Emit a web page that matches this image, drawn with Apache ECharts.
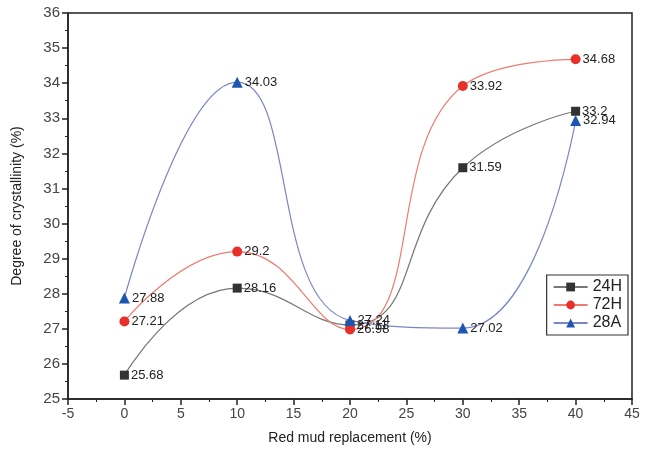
<!DOCTYPE html>
<html>
<head>
<meta charset="utf-8">
<script src="https://cdn.jsdelivr.net/npm/echarts@6/dist/echarts.min.js"></script>
<style>
  html, body { margin: 0; padding: 0; background: #fff; }
  #main { width: 652px; height: 451px; }
</style>
</head>
<body>
<div id="main"></div>
<script>
var xValues = [0, 10, 20, 30, 40];
var h24 = [25.68, 28.16, 27.11, 31.59, 33.2];
var h72 = [27.21, 29.2, 26.98, 33.92, 34.68];
var a28 = [27.88, 34.03, 27.24, 27.02, 32.94];

var font = 'Liberation Sans';

function pairs(ys) {
  return xValues.map(function (x, i) { return [x, ys[i]]; });
}

function makeSeries(name, ys, symbol, markColor, lineColor, size) {
  return {
    name: name,
    type: 'line',
    smooth: 0.5,
    data: pairs(ys),
    symbol: symbol,
    symbolSize: size,
    itemStyle: { color: markColor },
    lineStyle: { color: lineColor, width: 1.2 },
    label: {
      show: true,
      position: 'right',
      distance: 2,
      color: '#222',
      fontFamily: font,
      fontSize: 13
    }
  };
}

var myChart = echarts.init(document.getElementById('main'));

myChart.setOption({
  animation: false,
  grid: {
    left: 68, right: 20, top: 13, bottom: 52,
    show: true, borderColor: '#222', borderWidth: 1.5
  },
  legend: {
    right: 24, top: 275,
    orient: 'vertical',
    borderColor: '#333', borderWidth: 1.2, borderRadius: 0,
    padding: [4, 6, 4, 6],
    itemGap: 2,
    itemWidth: 34, itemHeight: 11,
    textStyle: { fontFamily: font, fontSize: 16, color: '#222' },
    data: ['24H', '72H', '28A']
  },
  xAxis: {
    type: 'value',
    min: -5, max: 45, interval: 5,
    name: 'Red mud replacement (%)',
    nameLocation: 'middle',
    nameGap: 32,
    nameTextStyle: { fontFamily: font, fontSize: 14, color: '#222' },
    axisLine: { onZero: false, lineStyle: { color: '#222', width: 1.5 } },
    axisTick: { show: true, length: 6, lineStyle: { color: '#222', width: 1.5 } },
    minorTick: { show: true, splitNumber: 2, length: 3, lineStyle: { color: '#222' } },
    axisLabel: { fontFamily: font, fontSize: 14, color: '#444', margin: 8 },
    splitLine: { show: false }
  },
  yAxis: {
    type: 'value',
    min: 25, max: 36, interval: 1,
    name: 'Degree of crystallinity (%)',
    nameLocation: 'middle',
    nameGap: 44,
    nameTextStyle: { fontFamily: font, fontSize: 14, color: '#222' },
    axisLine: { show: true, onZero: false, lineStyle: { color: '#222', width: 1.5 } },
    axisTick: { show: true, length: 6, lineStyle: { color: '#222', width: 1.5 } },
    minorTick: { show: true, splitNumber: 2, length: 3, lineStyle: { color: '#222' } },
    axisLabel: { fontFamily: font, fontSize: 15, color: '#444', margin: 8 },
    splitLine: { show: false }
  },
  series: [
    makeSeries('24H', h24, 'rect', '#333333', '#777777', 9),
    makeSeries('72H', h72, 'circle', '#e8302a', '#f07a70', 10),
    makeSeries('28A', a28, 'triangle', '#1d55b0', '#7b86c8', 11)
  ]
});
</script>
</body>
</html>
